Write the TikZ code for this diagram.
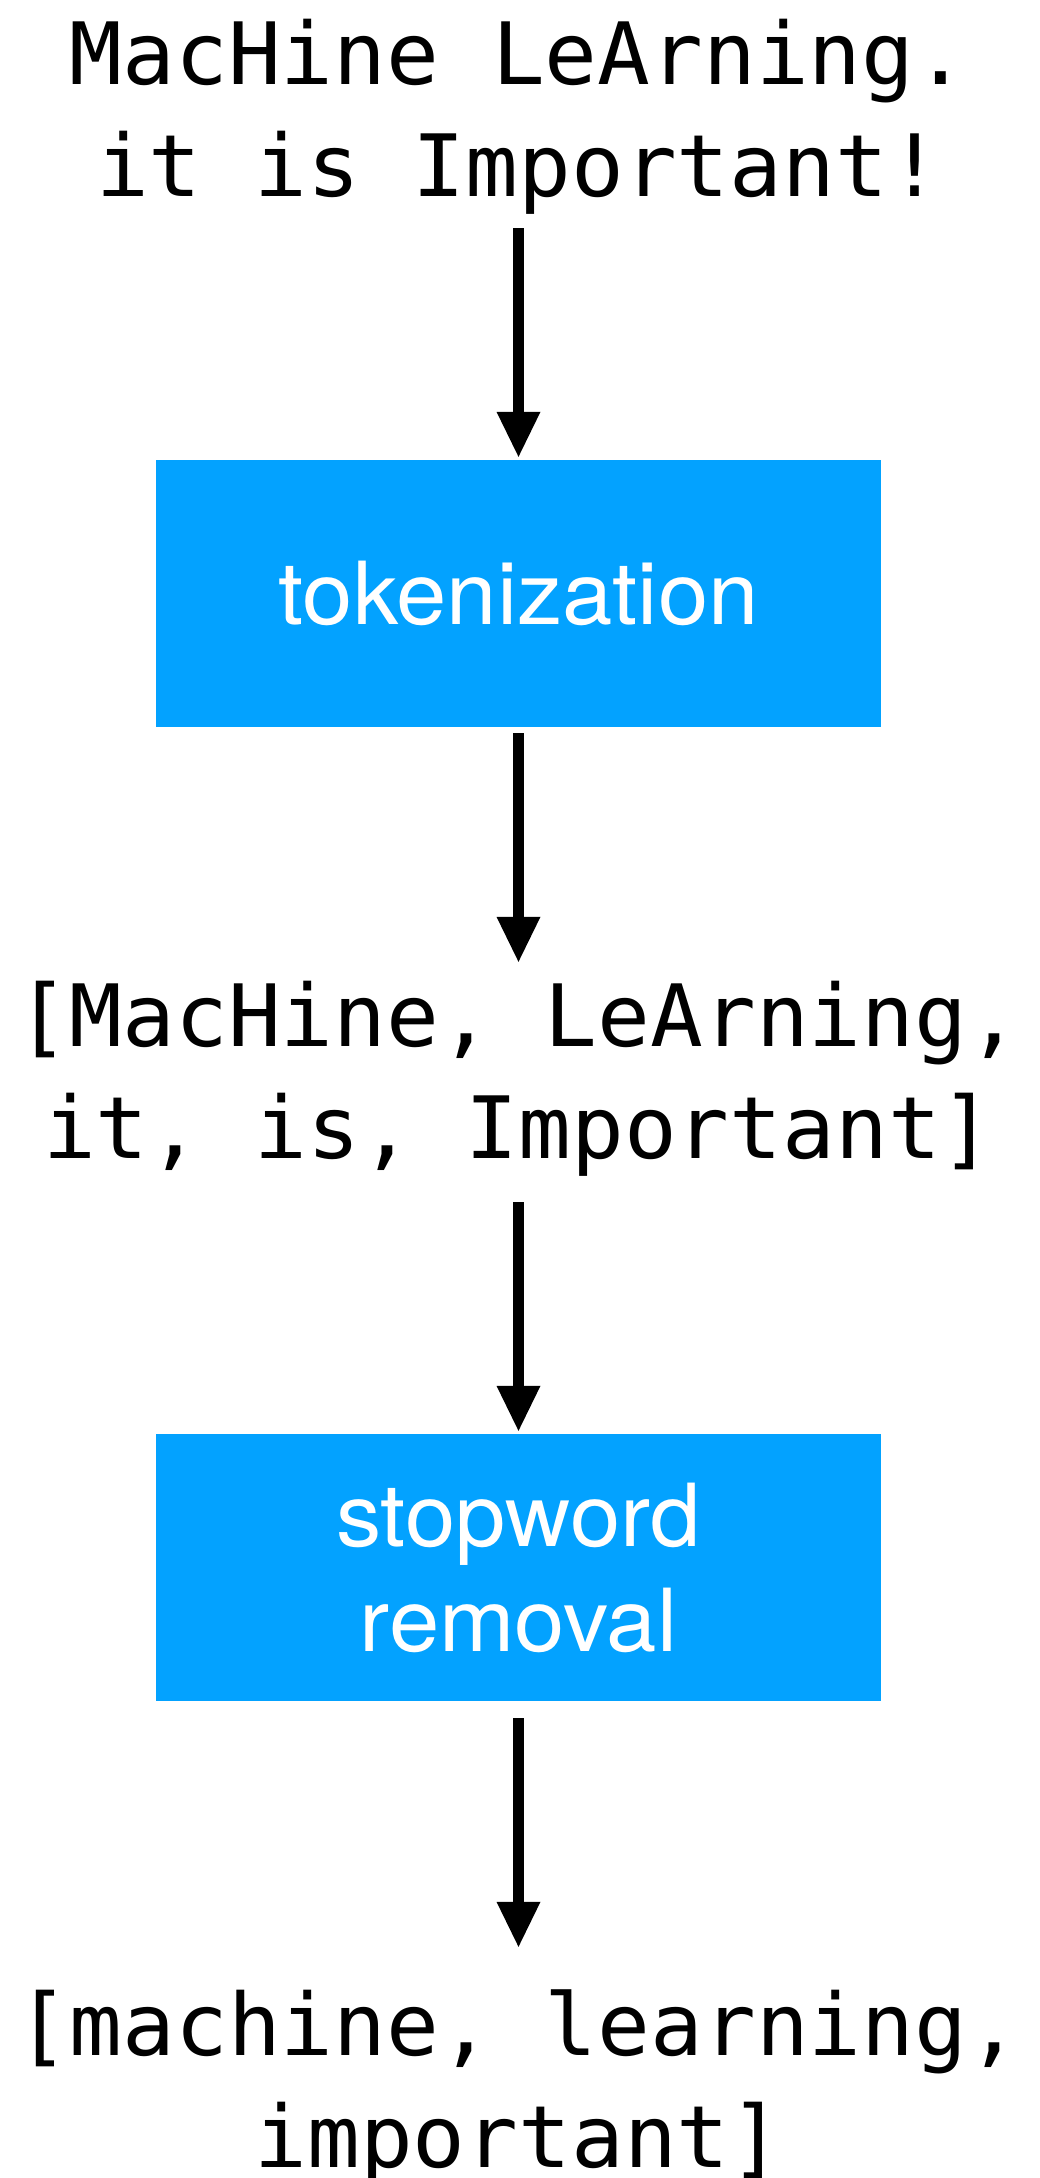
\documentclass[tikz,border=0pt]{standalone}
\usepackage{fontspec}
\usetikzlibrary{arrows.meta}
\newfontfamily\monof[FakeStretch=1.02]{DejaVu Sans Mono}
\newfontfamily\boxf[FakeStretch=1.04]{TeX Gyre Heros}
\definecolor{boxblue}{RGB}{3,162,255}
\tikzset{
  monotext/.style={inner sep=0pt, anchor=base, font=\monof\fontsize{86}{112}\selectfont},
  procbox/.style={fill=boxblue, draw=none, minimum width=725pt, minimum height=267pt,
    inner sep=0pt, text=white, align=center, font=\boxf\fontsize{87}{105}\selectfont},
  arr/.style={line width=11pt, -{Triangle[width=44pt,length=45pt,line width=0pt]}}
}
\begin{document}
\begin{tikzpicture}[x=1pt,y=-1pt]
\useasboundingbox[fill=white] (0,0) rectangle (1040,2178);
\node[monotext] (t1) at (518.5,85) {\begin{tabular}[t]{@{}c@{}}MacHine LeArning.\\it is Important!\end{tabular}};
\node[procbox] (b1) at (518.5,593.5) {tokenization};
\node[monotext] (t2) at (518.5,1046) {\begin{tabular}[t]{@{}c@{}}[MacHine, LeArning,\\it, is, Important]\end{tabular}};
\node[procbox] (b2) at (518.5,1567.5) {stopword\\removal};
\node[monotext] (t3) at (518.5,2055) {\begin{tabular}[t]{@{}c@{}}[machine, learning,\\important]\end{tabular}};
\draw[arr, shorten <=-2.6pt, shorten >=3pt] (t1.south) -- (b1.north);
\draw[arr, shorten <=6pt, shorten >=5.6pt] (b1.south) -- (t2.north);
\draw[arr, shorten <=10.4pt, shorten >=3pt] (t2.south) -- (b2.north);
\draw[arr, shorten <=17pt, shorten >=29.6pt] (b2.south) -- (t3.north);
\end{tikzpicture}
\end{document}
